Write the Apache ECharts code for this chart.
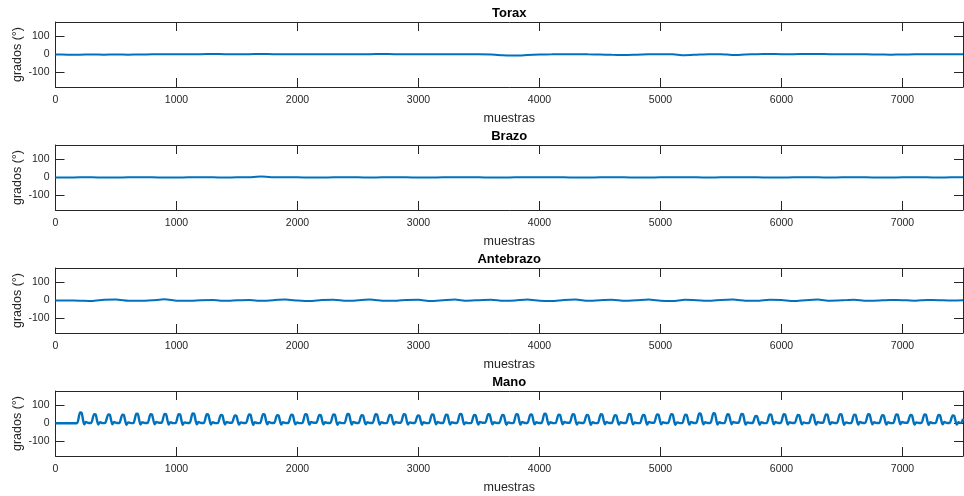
<!DOCTYPE html>
<html>
<head>
<meta charset="utf-8">
<script src="https://cdn.jsdelivr.net/npm/echarts@6/dist/echarts.min.js"></script>
<style>
  html, body { margin: 0; padding: 0; background: #fff; }
  #chart { width: 964px; height: 496px; }
</style>
</head>
<body>
<div id="chart"></div>
<script>
// Segment angles (degrees) sampled every 100 samples
const sampleStep = 100;
const titles = ['Torax', 'Brazo', 'Antebrazo', 'Mano'];
const xTicks = [0, 1000, 2000, 3000, 4000, 5000, 6000, 7000];
const yTicks = [-100, 0, 100];

const torax = [
  0, -1, -1, 0, -1, 0, -1, 0, 1, 1, 2,
  2, 2, 3, 2, 2, 2, 3, 2, 2, 1,
  1, 1, 2, 2, 2, 2, 3, 2, 2, 2,
  2, 1, 1, 1, 1, 0, -4, -6, -3, 0,
  1, 2, 2, 1, 0,
  -2, -3, -1, 1, 2, 1, -4, -1, 2, 2,
  -3, 0, 2, 3, 2, 2, 3, 3, 2, 2,
  1, 1, 0, -1, 0, 1, 1, 1, 2, 1
];

const brazo = [
  0, 0, 1, 1, 0, 0, 1, 1, 1, 0, 0, 1, 1, 1, 0, 1,
  2, 5, 2,
  1, 1, 0, 0, 1, 1, 1, 0, 1, 1,
  1, 0, 0, 1, 1, 1, 1, 0, 0, 1,
  1, 1, 1, 1, 0, 0, 1, 1, 1, 0,
  0, 1, 1, 1, 1, 0, 1, 1, 1, 1,
  0, 0, 1, 1, 1, 0, 1, 1, 1, 0,
  0, 1, 1, 1, 0, 1, 1
];

const antebrazo = [
  0, 0, -1, -3, 4, 6, -1, -2, 1, 7,
  -1, -2, 2, 3, -2, 1, 3, -2, 2, 5,
  0, -3, 3, 4, -2, 1, 5, -1, -2, 3,
  4, -3, 1, 5, -1, 2, 4, -2, 0, 6,
  -1, -3, 3, 5, -2, 2, 4, -2, 1, 6,
  -1, -3, 4, 2, -2, 3, 5, -1, -2, 4,
  3, -3, 2, 5, -1, 1, 4, -2, 0, 3,
  2, -1, 3, 2, 0, 1
];

// Hand: [sample, degrees] points, one row per movement cycle
const mano = [
  [0, 1], [100, 1], [150, 1],
  [178, 2], [204, 61], [216, 59], [238, -5], [252, 8], [274, 3],
  [294, 3], [320, 52], [332, 50], [354, -6], [368, 7], [390, 2],
  [411, 4], [437, 50], [449, 48], [471, -5], [485, 8], [507, 3],
  [527, 3], [553, 49], [565, 47], [587, -7], [601, 6], [623, 2],
  [643, 2], [669, 54], [681, 52], [703, -6], [717, 7], [739, 3],
  [760, 3], [786, 51], [798, 49], [820, -5], [834, 8], [856, 4],
  [876, 4], [902, 53], [914, 51], [936, -6], [950, 7], [972, 2],
  [992, 2], [1018, 52], [1030, 50], [1052, -7], [1066, 6], [1088, 3],
  [1108, 3], [1134, 55], [1146, 53], [1168, -5], [1182, 8], [1204, 3],
  [1225, 3], [1251, 51], [1263, 49], [1285, -6], [1299, 7], [1321, 2],
  [1341, 2], [1367, 48], [1379, 46], [1401, -5], [1415, 8], [1437, 4],
  [1457, 4], [1483, 45], [1495, 43], [1517, -6], [1531, 6], [1553, 3],
  [1574, 3], [1600, 50], [1612, 48], [1634, -7], [1648, 7], [1670, 2],
  [1690, 2], [1716, 52], [1728, 50], [1750, -5], [1764, 8], [1786, 3],
  [1806, 3], [1832, 46], [1844, 44], [1866, -6], [1880, 7], [1902, 3],
  [1923, 3], [1949, 49], [1961, 47], [1983, -5], [1997, 6], [2019, 2],
  [2039, 2], [2065, 52], [2077, 50], [2099, -6], [2113, 8], [2135, 4],
  [2155, 4], [2181, 47], [2193, 45], [2215, -5], [2229, 7], [2251, 3],
  [2271, 3], [2297, 50], [2309, 48], [2331, -7], [2345, 6], [2367, 2],
  [2388, 2], [2414, 53], [2426, 51], [2448, -6], [2462, 8], [2484, 3],
  [2504, 3], [2530, 46], [2542, 44], [2564, -5], [2578, 7], [2600, 3],
  [2620, 3], [2646, 51], [2658, 49], [2680, -6], [2694, 7], [2716, 2],
  [2737, 2], [2763, 48], [2775, 46], [2797, -5], [2811, 8], [2833, 4],
  [2853, 4], [2879, 52], [2891, 50], [2913, -6], [2927, 6], [2949, 3],
  [2969, 3], [2995, 45], [3007, 43], [3029, -7], [3043, 7], [3065, 2],
  [3086, 2], [3112, 50], [3124, 48], [3146, -5], [3160, 8], [3182, 3],
  [3202, 3], [3228, 49], [3240, 47], [3262, -6], [3276, 7], [3298, 3],
  [3318, 3], [3344, 53], [3356, 51], [3378, -5], [3392, 6], [3414, 2],
  [3434, 2], [3460, 47], [3472, 45], [3494, -6], [3508, 8], [3530, 4],
  [3551, 4], [3577, 51], [3589, 49], [3611, -5], [3625, 7], [3647, 3],
  [3667, 3], [3693, 48], [3705, 46], [3727, -7], [3741, 6], [3763, 2],
  [3783, 2], [3809, 52], [3821, 50], [3843, -6], [3857, 8], [3879, 3],
  [3900, 3], [3926, 50], [3938, 48], [3960, -5], [3974, 7], [3996, 3],
  [4016, 3], [4042, 54], [4054, 52], [4076, -6], [4090, 7], [4112, 2],
  [4132, 2], [4158, 49], [4170, 47], [4192, -5], [4206, 8], [4228, 4],
  [4249, 4], [4275, 52], [4287, 50], [4309, -6], [4323, 6], [4345, 3],
  [4365, 3], [4391, 47], [4403, 45], [4425, -7], [4439, 7], [4461, 2],
  [4481, 2], [4507, 51], [4519, 49], [4541, -5], [4555, 8], [4577, 3],
  [4597, 3], [4623, 46], [4635, 44], [4657, -6], [4671, 7], [4693, 3],
  [4714, 3], [4740, 53], [4752, 51], [4774, -5], [4788, 6], [4810, 2],
  [4830, 2], [4856, 48], [4868, 46], [4890, -6], [4904, 8], [4926, 4],
  [4946, 4], [4972, 50], [4984, 48], [5006, -5], [5020, 7], [5042, 3],
  [5063, 3], [5089, 52], [5101, 50], [5123, -7], [5137, 6], [5159, 2],
  [5179, 2], [5205, 49], [5217, 47], [5239, -6], [5253, 8], [5275, 3],
  [5295, 3], [5321, 55], [5333, 53], [5355, -5], [5369, 7], [5391, 3],
  [5412, 3], [5438, 57], [5450, 55], [5472, -6], [5486, 7], [5508, 2],
  [5528, 2], [5554, 51], [5566, 49], [5588, -5], [5602, 8], [5624, 4],
  [5644, 4], [5670, 53], [5682, 51], [5704, -6], [5718, 6], [5740, 3],
  [5760, 3], [5786, 42], [5798, 40], [5820, -7], [5834, 7], [5856, 2],
  [5877, 2], [5903, 50], [5915, 48], [5937, -5], [5951, 8], [5973, 3],
  [5993, 3], [6019, 51], [6031, 49], [6053, -6], [6067, 7], [6089, 3],
  [6109, 3], [6135, 47], [6147, 45], [6169, -5], [6183, 6], [6205, 2],
  [6226, 2], [6252, 49], [6264, 47], [6286, -6], [6300, 8], [6322, 4],
  [6342, 4], [6368, 50], [6380, 48], [6402, -5], [6416, 7], [6438, 3],
  [6458, 3], [6484, 52], [6496, 50], [6518, -7], [6532, 6], [6554, 2],
  [6575, 2], [6601, 49], [6613, 47], [6635, -6], [6649, 8], [6671, 3],
  [6691, 3], [6717, 51], [6729, 49], [6751, -5], [6765, 7], [6787, 3],
  [6807, 3], [6833, 46], [6845, 44], [6867, -6], [6881, 7], [6903, 2],
  [6923, 2], [6949, 50], [6961, 48], [6983, -5], [6997, 8], [7019, 4],
  [7040, 4], [7066, 48], [7078, 46], [7100, -6], [7114, 6], [7136, 3],
  [7156, 3], [7182, 50], [7194, 48], [7216, -7], [7230, 7], [7252, 2],
  [7272, 2], [7298, 47], [7310, 45], [7332, -5], [7346, 8], [7368, 3],
  [7389, 3], [7415, 45], [7427, 43], [7449, -6], [7463, 7], [7482, 3],
  [7500, 25]
];

const FONT = "'Liberation Sans', Arial, Helvetica, sans-serif";
const INK = '#262626';
const LINE = '#0072BD';
const gridTops = [22, 145, 268, 391];

function toPairs(values) {
  return values.map((v, i) => [i * sampleStep, v]);
}
const seriesData = [toPairs(torax), toPairs(brazo), toPairs(antebrazo), mano];

const grid = [], xAxis = [], yAxis = [], series = [];
gridTops.forEach((top, i) => {
  grid.push({
    left: 55.5, right: 1, top: top, height: 65, show: false,
    outerBoundsMode: 'none', containLabel: false
  });
  const axisLine = { show: true, onZero: false, lineStyle: { color: INK, width: 1 } };
  const tick = { show: true, inside: true, length: 9, lineStyle: { color: INK, width: 1 } };
  // bottom x axis with tick labels and name
  xAxis.push({
    type: 'value', gridIndex: i, min: 0, max: 7500, position: 'bottom',
    axisLine: axisLine,
    axisTick: Object.assign({}, tick, { customValues: xTicks }),
    axisLabel: {
      customValues: xTicks, color: INK, fontSize: 10.5, fontFamily: FONT, margin: 8,
      formatter: v => String(v)
    },
    splitLine: { show: false },
    name: 'muestras', nameLocation: 'middle', nameGap: 25, nameMoveOverlap: false,
    nameTextStyle: { color: INK, fontSize: 12.5, fontFamily: FONT }
  });
  // top x axis: box edge, inward ticks, panel title
  xAxis.push({
    type: 'value', gridIndex: i, min: 0, max: 7500, position: 'top',
    axisLine: axisLine,
    axisTick: Object.assign({}, tick, { customValues: xTicks }),
    axisLabel: { show: false },
    splitLine: { show: false },
    name: titles[i], nameLocation: 'middle', nameGap: 2, nameMoveOverlap: false,
    nameTextStyle: { color: '#000', fontSize: 13, fontWeight: 'bold', fontFamily: FONT }
  });
  yAxis.push({
    type: 'value', gridIndex: i, min: -180, max: 180, position: 'left',
    axisLine: axisLine,
    axisTick: Object.assign({}, tick, { customValues: yTicks }),
    axisLabel: {
      customValues: yTicks, color: INK, fontSize: 10.5, fontFamily: FONT, margin: 6,
      formatter: v => String(v)
    },
    splitLine: { show: false },
    name: 'grados (°)', nameLocation: 'middle', nameGap: 31, nameRotate: 90,
    nameMoveOverlap: false,
    nameTextStyle: { color: INK, fontSize: 12.5, fontFamily: FONT }
  });
  yAxis.push({
    type: 'value', gridIndex: i, min: -180, max: 180, position: 'right',
    axisLine: axisLine,
    axisTick: Object.assign({}, tick, { customValues: yTicks }),
    axisLabel: { show: false },
    splitLine: { show: false }
  });
  series.push({
    type: 'line', xAxisIndex: 2 * i, yAxisIndex: 2 * i,
    data: seriesData[i], showSymbol: false, symbol: 'none',
    smooth: i === 3 ? 0.3 : 0.2,
    lineStyle: { color: LINE, width: i === 3 ? 2.4 : 2 },
    silent: true
  });
});

const chart = echarts.init(document.getElementById('chart'), null, { renderer: 'canvas' });
chart.setOption({
  animation: false,
  backgroundColor: '#ffffff',
  textStyle: { fontFamily: FONT },
  grid: grid,
  xAxis: xAxis,
  yAxis: yAxis,
  series: series
});
</script>
</body>
</html>
